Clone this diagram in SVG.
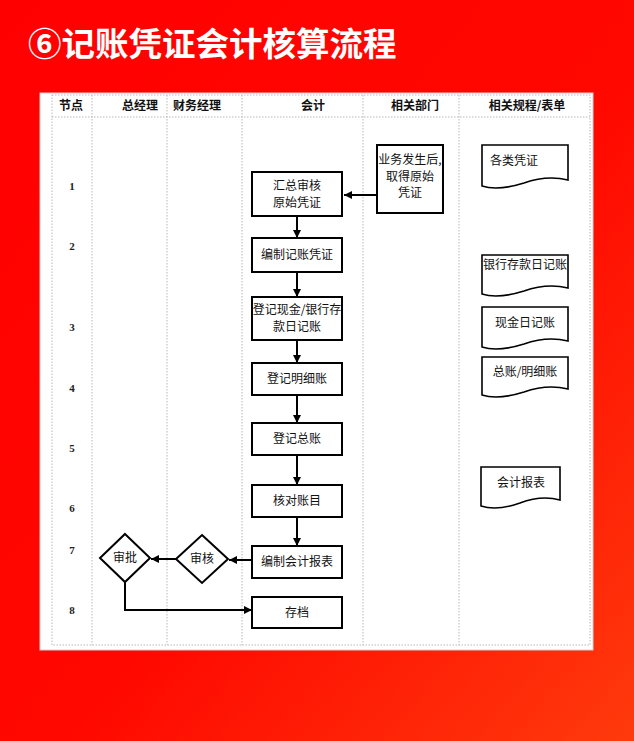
<svg xmlns="http://www.w3.org/2000/svg" width="634" height="741" viewBox="0 0 634 741">
<defs>
<linearGradient id="bg" x1="0" y1="0" x2="1" y2="1">
<stop offset="0" stop-color="#ff0000"/>
<stop offset="0.55" stop-color="#ff0800"/>
<stop offset="1" stop-color="#ff3a0c"/>
</linearGradient>
<marker id="arr" viewBox="0 0 10 10" refX="10" refY="5" markerWidth="8" markerHeight="8" markerUnits="userSpaceOnUse" orient="auto">
<path d="M0,0 L10,5 L0,10 Z" fill="#000"/>
</marker>
<style>
.grid{stroke:#b8b8b8;stroke-width:1;stroke-dasharray:1.5,1.5;fill:none}
.hd{font-family:"Noto Sans CJK SC","Liberation Sans",sans-serif;font-size:12px;font-weight:bold;fill:#111;text-anchor:middle}
.num{font-family:"Liberation Serif","DejaVu Serif",serif;font-size:11px;font-weight:bold;fill:#222;text-anchor:middle}
.box{fill:#fff;stroke:#000;stroke-width:2}
.doc{fill:#fff;stroke:#000;stroke-width:1.6}
.t{font-family:"Noto Sans CJK SC","Liberation Sans",sans-serif;font-size:12px;fill:#111;text-anchor:middle}
.ln{stroke:#000;stroke-width:2;fill:none;marker-end:url(#arr)}
</style>
</defs>
<rect width="634" height="741" fill="url(#bg)"/>
<text x="28" y="56" font-family="'Noto Sans CJK SC','Liberation Sans',sans-serif" font-size="33.5" font-weight="bold" fill="#fff">⑥记账凭证会计核算流程</text>

<g id="table">
<rect x="40" y="93" width="553" height="557" fill="#fff" stroke="#d0d0d0" stroke-width="1"/>
<rect x="52" y="95" width="538" height="550" class="grid"/>
<line x1="52" y1="117" x2="590" y2="117" class="grid"/>
<line x1="92" y1="95" x2="92" y2="645" class="grid"/>
<line x1="167" y1="95" x2="167" y2="645" class="grid"/>
<line x1="242" y1="95" x2="242" y2="645" class="grid"/>
<line x1="363" y1="95" x2="363" y2="645" class="grid"/>
<line x1="459" y1="95" x2="459" y2="645" class="grid"/>
<text x="71" y="110" class="hd">节点</text>
<text x="140" y="110" class="hd">总经理</text>
<text x="197" y="110" class="hd">财务经理</text>
<text x="313" y="110" class="hd">会计</text>
<text x="415" y="110" class="hd">相关部门</text>
<text x="527" y="110" class="hd">相关规程/表单</text>
<text x="72" y="190" class="num">1</text>
<text x="72" y="250" class="num">2</text>
<text x="72" y="331" class="num">3</text>
<text x="72" y="392" class="num">4</text>
<text x="72" y="452" class="num">5</text>
<text x="72" y="512" class="num">6</text>
<text x="72" y="554" class="num">7</text>
<text x="72" y="614" class="num">8</text>
</g>

<g id="connectors">
<line x1="377" y1="195" x2="344" y2="195" class="ln"/>
<line x1="297" y1="216" x2="297" y2="238" class="ln"/>
<line x1="297" y1="272" x2="297" y2="297" class="ln"/>
<line x1="297" y1="340" x2="297" y2="363" class="ln"/>
<line x1="297" y1="395" x2="297" y2="423" class="ln"/>
<line x1="297" y1="455" x2="297" y2="485" class="ln"/>
<line x1="297" y1="517" x2="297" y2="546" class="ln"/>
<line x1="252" y1="560" x2="229" y2="560" class="ln"/>
<line x1="176" y1="559" x2="151" y2="559" class="ln"/>
<polyline points="125,582 125,610 252,610" class="ln"/>
</g>

<g id="n-source">
<rect x="377" y="145" width="66" height="68" class="box"/>
<text x="410" y="164" class="t">业务发生后,</text>
<text x="410" y="181" class="t">取得原始</text>
<text x="410" y="197" class="t">凭证</text>
</g>
<g id="n-review">
<rect x="252" y="172" width="90" height="44" class="box"/>
<text x="297" y="190" class="t">汇总审核</text>
<text x="297" y="207" class="t">原始凭证</text>
</g>
<g id="n-voucher">
<rect x="252" y="238" width="90" height="34" class="box"/>
<text x="297" y="259" class="t">编制记账凭证</text>
</g>
<g id="n-journal">
<rect x="252" y="297" width="90" height="43" class="box"/>
<text x="297" y="314" class="t">登记现金/银行存</text>
<text x="297" y="331" class="t">款日记账</text>
</g>
<g id="n-detail">
<rect x="252" y="363" width="90" height="32" class="box"/>
<text x="297" y="383" class="t">登记明细账</text>
</g>
<g id="n-general">
<rect x="252" y="423" width="90" height="32" class="box"/>
<text x="297" y="443" class="t">登记总账</text>
</g>
<g id="n-check">
<rect x="252" y="485" width="90" height="32" class="box"/>
<text x="297" y="505" class="t">核对账目</text>
</g>
<g id="n-report">
<rect x="252" y="546" width="90" height="32" class="box"/>
<text x="297" y="566" class="t">编制会计报表</text>
</g>
<g id="n-archive">
<rect x="252" y="597" width="90" height="31" class="box"/>
<text x="297" y="617" class="t">存档</text>
</g>
<g id="n-audit">
<polygon points="202,535 228,559 202,583 176,559" class="box"/>
<text x="202" y="563" class="t">审核</text>
</g>
<g id="n-approve">
<polygon points="125,534 150,558 125,582 100,558" class="box"/>
<text x="125" y="562" class="t">审批</text>
</g>

<g id="d-vouchers">
<path d="M482,145 H568 V180 C552,176 538,178 524,183 C508,188 494,190 482,186 Z" class="doc"/>
<text x="514" y="165" class="t">各类凭证</text>
</g>
<g id="d-bank">
<path d="M482,255 H568 V288 C552,284 538,286 524,291 C508,296 494,298 482,294 Z" class="doc"/>
<text x="525" y="269" class="t">银行存款日记账</text>
</g>
<g id="d-cash">
<path d="M482,307 H568 V341 C552,337 538,339 524,344 C508,349 494,351 482,347 Z" class="doc"/>
<text x="525" y="327" class="t">现金日记账</text>
</g>
<g id="d-ledger">
<path d="M482,357 H568 V389 C552,385 538,387 524,392 C508,397 494,399 482,395 Z" class="doc"/>
<text x="525" y="376" class="t">总账/明细账</text>
</g>
<g id="d-report">
<path d="M481,467 H560 V500 C546,496 533,498 520,503 C506,508 493,510 481,506 Z" class="doc"/>
<text x="521" y="487" class="t">会计报表</text>
</g>
</svg>
